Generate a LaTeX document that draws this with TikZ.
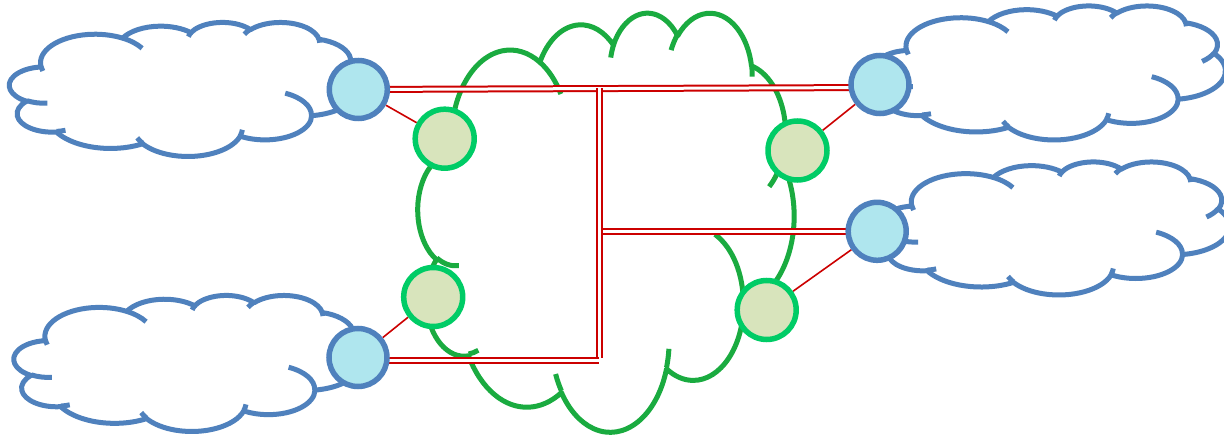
\documentclass[tikz,border=0pt]{standalone}
\pgfdeclarelayer{back}
\pgfsetlayers{back,main}
\definecolor{cblue}{HTML}{4F81BD}
\definecolor{ccyan}{HTML}{AFE6EE}
\definecolor{cgring}{HTML}{00CC66}
\definecolor{cgfill}{HTML}{D8E4BC}
\definecolor{cgcloud}{HTML}{1AAB40}
\definecolor{cred}{HTML}{CC0000}
% visual (OOXML) angle -> parametric angle
\newcommand\ooang[3]{\pgfmathsetmacro\ooT{(#3)+(atan2((#1)*sin(#3),(#2)*cos(#3))-(#3))-360*round((atan2((#1)*sin(#3),(#2)*cos(#3))-(#3))/360)}}
\newcommand\ooarc[4]{\ooang{#1}{#2}{#3}\let\ooTa\ooT\ooang{#1}{#2}{(#3)+(#4)}\let\ooTb\ooT\pgfpatharc{\ooTa}{\ooTb}{#1pt and #2pt}}
\newcommand\oomark[6]{\pgfpathmoveto{\pgfpoint{#1pt}{#2pt}}\ooarc{#3}{#4}{#5}{#6}}
\newcommand\oocloud[6]{%
\begin{scope}[shift={(#1,#2)},xscale=#3/432,yscale=-#4/432]
\pgfsetstrokecolor{#5}\pgfsetfillcolor{white}\pgfsetlinewidth{#6}\pgfsetroundjoin
\pgfpathmoveto{\pgfpoint{39pt}{143.7pt}}%
\ooarc{67.53}{91.90}{-190.487483}{123.780533}%
\ooarc{53.33}{72.67}{-144.102383}{89.945233}%
\ooarc{43.65}{59.45}{-145.807917}{99.723017}%
\ooarc{48.57}{65.95}{-130.986067}{117.241733}%
\ooarc{53.33}{72.73}{-78.708883}{109.026917}%
\ooarc{67.75}{92.20}{-46.26725}{130.269}%
\ooarc{57.85}{78.67}{0.625017}{114.033333}%
\ooarc{67.52}{92.15}{22.4516}{115.17255}%
\ooarc{77.20}{105.43}{66.242633}{75.711017}%
\ooarc{43.60}{59.18}{-274.942083}{146.735567}%
\ooarc{43.45}{59.45}{-246.8285}{152.51885}%
\pgfpathclose
\pgfusepath{fill,stroke}%
\oomark{46.93}{261.77}{43.45}{59.45}{86.742}{26.4295}%
\oomark{69.28}{348.99}{43.60}{59.18}{73.61047}{11.44747}%
\oomark{164.78}{390.90}{67.52}{92.15}{137.62415}{14.0811}%
\oomark{288.27}{347.51}{67.52}{92.15}{6.45327}{15.99835}%
\oomark{341.29}{229.54}{57.85}{78.67}{-70.29235}{70.91737}%
\oomark{417.98}{153.54}{53.33}{72.73}{30.31803}{27.7515}%
\oomark{383.24}{54.26}{48.57}{65.95}{-13.74433}{14.86423}%
\oomark{290.78}{39.52}{48.57}{65.95}{-149.18145}{18.1968}%
\oomark{221.41}{47.20}{43.65}{59.45}{-163.49427}{17.69422}%
\oomark{140.00}{51.92}{67.53}{91.90}{-66.70695}{28.1605}%
\oomark{41.27}{157.89}{67.53}{91.90}{157.65435}{11.85817}%
\pgfusepath{stroke}%
\end{scope}}
\tikzset{
  bnode/.style={circle, draw=cblue, fill=ccyan, line width=5.5pt, minimum size=58pt, inner sep=0pt},
  gnode/.style={circle, draw=cgring, fill=cgfill, line width=5.5pt, minimum size=59pt, inner sep=0pt},
  dbl/.style={draw=cred, double=white, line width=2pt, double distance=3pt},
  redline/.style={draw=cred, line width=1.6pt}
}
\begin{document}
\begin{tikzpicture}[x=1pt,y=-1pt]
\useasboundingbox (0,0) rectangle (1224,438);
% nodes
\node[bnode] (C1) at (358.3,89.5) {};
\node[bnode] (C2) at (358,357.5) {};
\node[bnode] (C3) at (880,84.5) {};
\node[bnode] (C4) at (877.2,231.3) {};
\node[gnode] (G1) at (444.7,138.7) {};
\node[gnode] (G2) at (797.5,150.5) {};
\node[gnode] (G3) at (433.2,297) {};
\node[gnode] (G4) at (766.7,310) {};
\coordinate (J1) at (599.3,88.3);
\coordinate (J2) at (599.3,358.5);
\coordinate (J3) at (602,231.3);
\coordinate (J4) at (599.3,360.7);
\begin{pgfonlayer}{back}
\fill[white] (0,0) rectangle (1224,438);
\oocloud{9.5}{22}{349}{134}{cblue}{5pt}
\oocloud{14}{295}{347.6}{136}{cblue}{5pt}
\oocloud{874.8}{5.5}{350.5}{134}{cblue}{5pt}
\oocloud{880.2}{161.5}{349.3}{133}{cblue}{5pt}
\oocloud{418}{11.8}{376}{419}{cgcloud}{5pt}
% connectors
\draw[redline] (C1) -- (G1);
\draw[redline] (C3) -- (G2);
\draw[redline] (C2) -- (G3);
\draw[redline] (C4) -- (G4);
\draw[dbl] (C1.center) -- ([yshift=-3pt]C3.center);
\draw[dbl] (J3) -- (C4.center);
\draw[dbl] (J1) -- (J2);
\draw[dbl] ([yshift=-3.2pt]C2.center) -- (J4);
\end{pgfonlayer}
\end{tikzpicture}
\end{document}
